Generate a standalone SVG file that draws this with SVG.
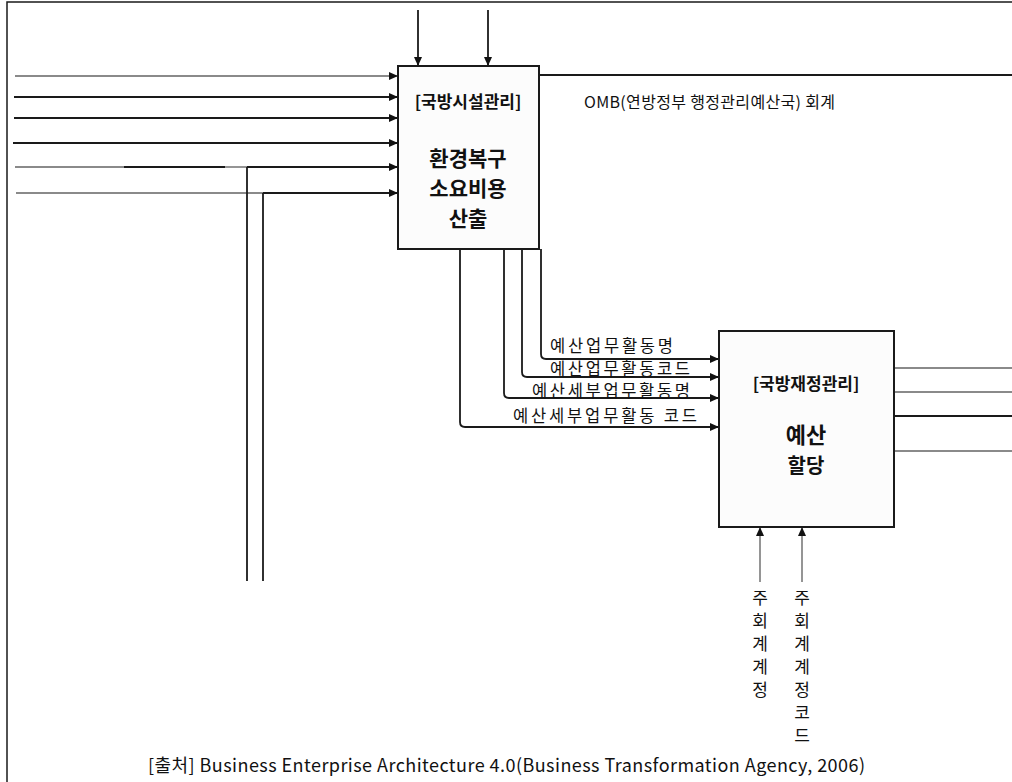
<svg xmlns="http://www.w3.org/2000/svg" width="1012" height="782" viewBox="0 0 1012 782">
<style>
.ln{fill:none;stroke:#1a1a1a;stroke-width:1.8}
.gl{fill:none;stroke:#8a8a8a;stroke-width:1.8}
.box{fill:#fcfcfc;stroke:#1a1a1a;stroke-width:2}
.t{font-family:"Noto Sans CJK KR","Noto Sans",sans-serif;fill:#111}
.b{font-weight:bold}
</style>
<defs>
<marker id="ah" markerWidth="9" markerHeight="8" refX="9" refY="4" orient="auto" markerUnits="userSpaceOnUse">
<path d="M0,0 L9,4 L0,8 Z" fill="#111"/>
</marker>
</defs>
<rect x="7" y="2" width="1010" height="790" fill="#fff" stroke="#1a1a1a" stroke-width="1.5"/>
<g id="connectors">
<line class="ln" x1="418" y1="10" x2="418" y2="66" marker-end="url(#ah)"/>
<line class="ln" x1="488" y1="10" x2="488" y2="66" marker-end="url(#ah)"/>
<line class="ln" x1="539" y1="75" x2="1012" y2="75"/>
<line class="gl" x1="15" y1="76" x2="398" y2="76" marker-end="url(#ah)"/>
<line class="ln" x1="14" y1="97" x2="398" y2="97" marker-end="url(#ah)"/>
<line class="ln" x1="14" y1="118" x2="398" y2="118" marker-end="url(#ah)"/>
<line class="ln" x1="13" y1="143" x2="398" y2="143" marker-end="url(#ah)"/>
<line class="gl" x1="15" y1="167" x2="124" y2="167"/>
<line class="ln" x1="124" y1="167" x2="225" y2="167"/>
<line class="gl" x1="225" y1="167" x2="247" y2="167"/>
<line class="ln" x1="247" y1="167" x2="398" y2="167" marker-end="url(#ah)"/>
<line class="gl" x1="16" y1="193" x2="263" y2="193"/>
<line class="ln" x1="263" y1="193" x2="398" y2="193" marker-end="url(#ah)"/>
<line class="ln" x1="247" y1="167" x2="247" y2="581"/>
<line class="ln" x1="263" y1="193" x2="263" y2="581"/>
<path class="ln" d="M541,249 V354 Q541,359 546,359 H719" marker-end="url(#ah)"/>
<path class="ln" d="M522,249 V372 Q522,377 527,377 H719" marker-end="url(#ah)"/>
<path class="ln" d="M504,249 V393 Q504,398 509,398 H719" marker-end="url(#ah)"/>
<path class="ln" d="M460,249 V422 Q460,427 465,427 H719" marker-end="url(#ah)"/>
<line class="gl" x1="894" y1="368" x2="1012" y2="368"/>
<line class="gl" x1="894" y1="392" x2="1012" y2="392"/>
<line class="ln" x1="894" y1="416" x2="1012" y2="416"/>
<line class="gl" x1="894" y1="451" x2="1012" y2="451"/>
<line class="gl" x1="760" y1="582" x2="760" y2="527" marker-end="url(#ah)"/>
<line class="gl" x1="802" y1="582" x2="802" y2="527" marker-end="url(#ah)"/>
</g>
<g id="node1">
<rect class="box" x="398" y="66" width="141" height="183"/>
<text class="t b" x="468" y="108" font-size="17" text-anchor="middle">[국방시설관리]</text>
<text class="t b" x="468" y="166" font-size="21" text-anchor="middle">환경복구</text>
<text class="t b" x="468" y="196" font-size="21" text-anchor="middle">소요비용</text>
<text class="t b" x="468" y="226" font-size="21" text-anchor="middle">산출</text>
</g>
<g id="node2">
<rect class="box" x="719" y="331" width="175" height="196"/>
<text class="t b" x="806" y="390" font-size="17" text-anchor="middle">[국방재정관리]</text>
<text class="t b" x="806" y="443" font-size="22" text-anchor="middle">예산</text>
<text class="t b" x="806" y="473" font-size="20" text-anchor="middle">할당</text>
</g>
<g id="labels">
<text class="t" x="584" y="108" font-size="16" textLength="251">OMB(연방정부 행정관리예산국) 회계</text>
<text class="t" x="550" y="352" font-size="16.5" textLength="123">예산업무활동명</text>
<text class="t" x="550" y="375" font-size="16.5" textLength="140">예산업무활동코드</text>
<text class="t" x="532" y="397" font-size="16.5" textLength="158">예산세부업무활동명</text>
<text class="t" x="513" y="422" font-size="16.5" textLength="184">예산세부업무활동 코드</text>
<g class="t" font-size="17" text-anchor="middle">
<text x="760" y="604">주</text>
<text x="760" y="627">회</text>
<text x="760" y="650">계</text>
<text x="760" y="673">계</text>
<text x="760" y="696">정</text>
<text x="802" y="604">주</text>
<text x="802" y="627">회</text>
<text x="802" y="650">계</text>
<text x="802" y="673">계</text>
<text x="802" y="696">정</text>
<text x="802" y="719">코</text>
<text x="802" y="742">드</text>
</g>
<text class="t" x="148" y="772" font-size="18" textLength="717">[출처] Business Enterprise Architecture 4.0(Business Transformation Agency, 2006)</text>
</g>
</svg>
